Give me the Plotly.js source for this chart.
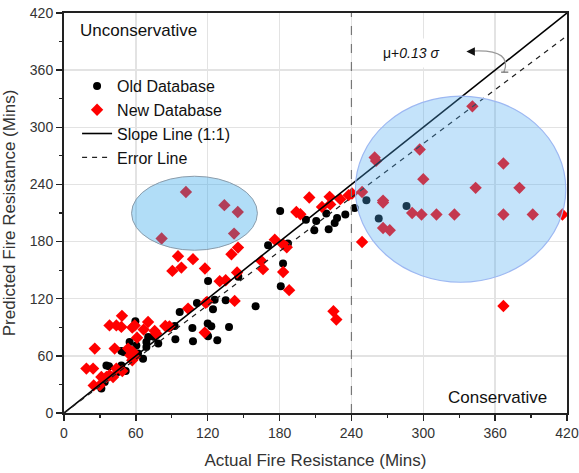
<!DOCTYPE html>
<html>
<head>
<meta charset="utf-8">
<script src="https://cdn.plot.ly/plotly-3.0.1.min.js"></script>
<style>html,body{margin:0;padding:0;background:#fff;}#chart{width:579px;height:473px;}</style>
</head>
<body>
<div id="chart"></div>
<script>
// Old Database (black circles)
const oldX = [170.4,182.9,181,187,120.3,145.6,160,135,125.8,124.4,111,120,123,120.3,128,137.8,107.2,107.7,93,96.6,92.4,88,75,70.3,78.7,59.6,68.8,68.8,66,61.8,60.4,54.8,56.2,47.9,49.8,47.9,35.4,37.6,51.5,45,34,31.2,
  180.5,202,210.6,209,219,228,226,221,234.9,242.7,252.5,286,262.8];
const oldY = [176.2,157,133,178,138.7,143,112,118.4,119,109,115.6,93.9,91,80.6,76.4,90.4,89.3,75.3,77.4,106,91.4,89.5,80,79.8,72.9,96.3,69.4,74.6,57,62.4,70.8,74.6,62.4,65,64,50,50,49,44,43,32.6,25.6,
  212.2,203,201.7,192,209.4,204.8,199.6,193,208.4,215.3,223.4,217.4,204.2];

// New Database (red diamonds)
const newX = [18.7,24.3,25.7,24.8,29.8,31.2,35.4,38,41,43.7,48.7,38,43.7,47.9,48.4,42.3,53.5,57.6,59,55.4,57,59,57,61,66.5,70.2,75.7,77,84.6,88,103.6,117.5,118.3,119.4,142.5,130,135,144.5,90.5,98,95.2,107.7,117.7,139.8,145.3,164.8,166.2,176,183,186,183,188,
  101.8,133.9,145.1,142,81.5,
  194,197.4,204.8,215.4,221.8,222.3,230.7,237.7,240.5,248.9,248.9,225,227.4,
  341,297,259.4,260.6,366.9,300,343.7,380.3,266.4,266.4,290.7,298.5,311,326,366.9,391.4,416.2,266.4,272,366.9];
const newY = [46.6,46.6,67.6,29,29,37.8,37.8,39.6,37.8,46.6,44,92,92,90.4,102,67.6,67.6,64,58.8,60.6,55.3,92,89.7,79,87.6,95.6,86.2,83.4,91.4,91,109.6,84.4,115.6,116.7,117.7,138.4,139.4,147.5,149.2,152.7,164.6,161.5,151.7,166.7,173.7,159.7,151,182,177,174,148,129,
  232.1,218.2,211.1,188.4,183.2,
  211,208.7,226.3,216.4,227,219,224.5,228.7,230.5,232,179.6,106.8,98.1,
  322,276.7,268.3,264.7,262,245.5,236.4,236.4,223,221,210,208.4,208.4,208.4,208.4,208.4,208.4,194.3,191.9,112.4];

// Reference lines
const slopeX = [0, 420];
const slopeY = [0, 420];
const errX = [0, 420];
const errY = [0, 396];

const tickVals = [0, 60, 120, 180, 240, 300, 360, 420];

const font = 'Liberation Sans, Arial, sans-serif';

const traces = [
  {x: oldX, y: oldY, type: 'scatter', mode: 'markers', name: 'Old Database',
   marker: {symbol: 'circle', size: 8, color: '#000'}},
  {x: newX, y: newY, type: 'scatter', mode: 'markers', name: 'New Database',
   marker: {symbol: 'diamond', size: 9.5, color: '#ff0000'}},
  {x: slopeX, y: slopeY, type: 'scatter', mode: 'lines', name: 'Slope Line (1:1)',
   line: {color: '#000', width: 1.6}},
  {x: errX, y: errY, type: 'scatter', mode: 'lines', name: 'Error Line',
   line: {color: '#222', width: 1.2, dash: '5px,5px'}}
];

const axisCommon = {
  range: [0, 420], tickvals: tickVals, showgrid: true, gridcolor: '#e3e3e3', gridwidth: 1.5,
  zeroline: false, showline: true, linecolor: '#222', linewidth: 2, mirror: true,
  ticks: 'outside', ticklen: 6, tickwidth: 1.5, tickcolor: '#222',
  minor: {dtick: 30, tick0: 0, ticks: 'outside', ticklen: 3, tickwidth: 1.2, tickcolor: '#222'},
  tickfont: {family: font, size: 14, color: '#333'}
};

const layout = {
  width: 579, height: 473,
  margin: {l: 64, r: 12, t: 13, b: 60},
  paper_bgcolor: '#fff', plot_bgcolor: '#fff',
  showlegend: true,
  legend: {x: 0.026, y: 0.86, xanchor: 'left', yanchor: 'top', bgcolor: 'rgba(0,0,0,0)',
           font: {family: font, size: 16, color: '#111'}, tracegroupgap: 0},
  xaxis: Object.assign({}, axisCommon, {
    title: {text: 'Actual Fire Resistance (Mins)', font: {family: font, size: 17, color: '#333'}, standoff: 14}
  }),
  yaxis: Object.assign({}, axisCommon, {
    title: {text: 'Predicted Fire Resistance (Mins)', font: {family: font, size: 17, color: '#333'}, standoff: 10}
  }),
  shapes: [
    {type: 'line', xref: 'x', yref: 'y', x0: 240, x1: 240, y0: 0, y1: 420,
     line: {color: '#777', width: 1.2, dash: 'dash'}, layer: 'above'},
    {type: 'circle', xref: 'x', yref: 'y', x0: 56.4, x1: 161.5, y0: 170.9, y1: 248.6,
     fillcolor: 'rgba(50,165,235,0.38)', line: {color: '#8a9cab', width: 1}, layer: 'above'},
    {type: 'circle', xref: 'x', yref: 'y', x0: 243.3, x1: 419, y0: 137.3, y1: 332.7,
     fillcolor: 'rgba(76,170,240,0.33)', line: {color: '#9db8f2', width: 1.2}, layer: 'above'},
    {type: 'path', xref: 'x', yref: 'y', path: 'M 367.3 357.9 C 372 372, 366 382, 340 380',
     line: {color: '#999', width: 1.3}, layer: 'above'},
    {type: 'line', xref: 'x', yref: 'y', x0: 365, x1: 371, y0: 357.9, y1: 357.9,
     line: {color: '#666', width: 1.2}, layer: 'above'}
  ],
  annotations: [
    {x: 11.5, y: 402, xref: 'x', yref: 'y', text: 'Unconservative', showarrow: false,
     xanchor: 'left', yanchor: 'middle', font: {family: font, size: 17, color: '#111'}},
    {x: 404.8, y: 16.5, xref: 'x', yref: 'y', text: 'Conservative', showarrow: false,
     xanchor: 'right', yanchor: 'middle', font: {family: font, size: 17, color: '#111'}},
    {x: 290, y: 378, xref: 'x', yref: 'y', text: 'μ+<i>0.13 σ</i>', showarrow: false,
     xanchor: 'center', yanchor: 'middle', bgcolor: '#fff', borderpad: 6,
     font: {family: 'Liberation Sans, Arial, sans-serif', size: 14, color: '#111'}},
    {x: 336, y: 379.5, xref: 'x', yref: 'y', ax: 8, ay: 0, text: '', showarrow: true,
     arrowhead: 2, arrowsize: 1.3, arrowwidth: 1.3, arrowcolor: '#111'}
  ]
};

Plotly.newPlot('chart', traces, layout, {displayModeBar: false, staticPlot: true});
</script>
</body>
</html>
